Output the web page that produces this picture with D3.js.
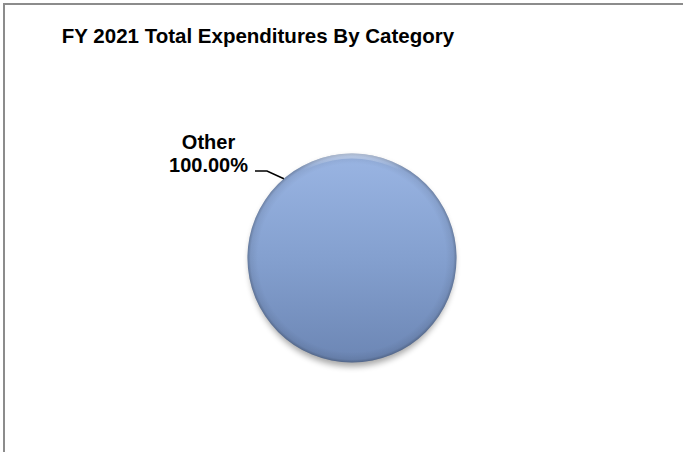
<!DOCTYPE html>
<html><head><meta charset="utf-8">
<script src="https://cdn.jsdelivr.net/npm/d3@7"></script>
<style>body{margin:0;background:#fff}svg{display:block}</style>
</head><body>
<script>
const title = "FY 2021 Total Expenditures By Category";
const categories = ["Other"];
const values = [100];
const labels = ["100.00%"];

const W = 683, H = 452;
const svg = d3.select("body").append("svg").attr("width", W).attr("height", H);

// frame (left and top)
svg.append("path").attr("d", "M4,452 V4 H683").attr("fill", "none")
  .attr("stroke", "#8c8c8c").attr("stroke-width", 2);

svg.append("text").attr("x", 258).attr("y", 43).attr("text-anchor", "middle")
  .attr("font-family", "Liberation Sans, Arial, sans-serif").attr("font-weight", "bold")
  .attr("font-size", 20.5).attr("fill", "#000").text(title);

const defs = svg.append("defs");
const lg = defs.append("linearGradient").attr("id", "fillg").attr("x1", 0).attr("y1", 0).attr("x2", 0).attr("y2", 1);
lg.append("stop").attr("offset", "0%").attr("stop-color", "#9ab5e3");
lg.append("stop").attr("offset", "50%").attr("stop-color", "#84a0cf");
lg.append("stop").attr("offset", "100%").attr("stop-color", "#6c86b4");
const rg = defs.append("radialGradient").attr("id", "bevel").attr("cx", "50%").attr("cy", "50%").attr("r", "50%");
rg.append("stop").attr("offset", "90%").attr("stop-color", "#000").attr("stop-opacity", 0);
rg.append("stop").attr("offset", "97%").attr("stop-color", "#000").attr("stop-opacity", 0.07);
rg.append("stop").attr("offset", "100%").attr("stop-color", "#000").attr("stop-opacity", 0.25);
const hg = defs.append("linearGradient").attr("id", "hi").attr("x1", 0).attr("y1", 0).attr("x2", 0).attr("y2", 1);
hg.append("stop").attr("offset", "0%").attr("stop-color", "#fff").attr("stop-opacity", 0.4);
hg.append("stop").attr("offset", "8%").attr("stop-color", "#fff").attr("stop-opacity", 0);
const sf = defs.append("filter").attr("id", "shadow").attr("x", "-20%").attr("y", "-20%").attr("width", "140%").attr("height", "140%");
sf.append("feGaussianBlur").attr("stdDeviation", 3);

const cx = 352, cy = 258, r = 104.5;
const pie = d3.pie().sort(null).value(d => d)(values);
const arc = d3.arc().innerRadius(0).outerRadius(r);
const g = svg.append("g").attr("transform", `translate(${cx},${cy})`);

g.append("ellipse").attr("cx", 0).attr("cy", 4).attr("rx", r - 2).attr("ry", r)
  .attr("fill", "#000").attr("opacity", 0.35).attr("filter", "url(#shadow)");

g.selectAll("path.slice").data(pie).join("path").attr("class", "slice")
  .attr("d", arc).attr("fill", "url(#fillg)");
g.selectAll("path.bevel").data(pie).join("path").attr("class", "bevel")
  .attr("d", arc).attr("fill", "url(#bevel)");
g.selectAll("path.hi").data(pie).join("path").attr("class", "hi")
  .attr("d", d3.arc().innerRadius(r - 5).outerRadius(r)).attr("fill", "url(#hi)");

// label
const lab = svg.append("g").attr("font-family", "Liberation Sans, Arial, sans-serif")
  .attr("font-weight", "bold").attr("font-size", 20).attr("fill", "#000").attr("text-anchor", "middle");
lab.append("text").attr("x", 208.5).attr("y", 148.5).text(categories[0]);
lab.append("text").attr("x", 208.5).attr("y", 172).text(labels[0]);

// leader line to slice edge
const ang = -Math.PI / 2 - 0.71;
const ex = cx + r * Math.cos(ang), ey = cy + r * Math.sin(ang);
svg.append("path").attr("d", `M255,171 H267 L${ex},${ey}`)
  .attr("fill", "none").attr("stroke", "#000").attr("stroke-width", 1.5);
</script>
</body></html>
